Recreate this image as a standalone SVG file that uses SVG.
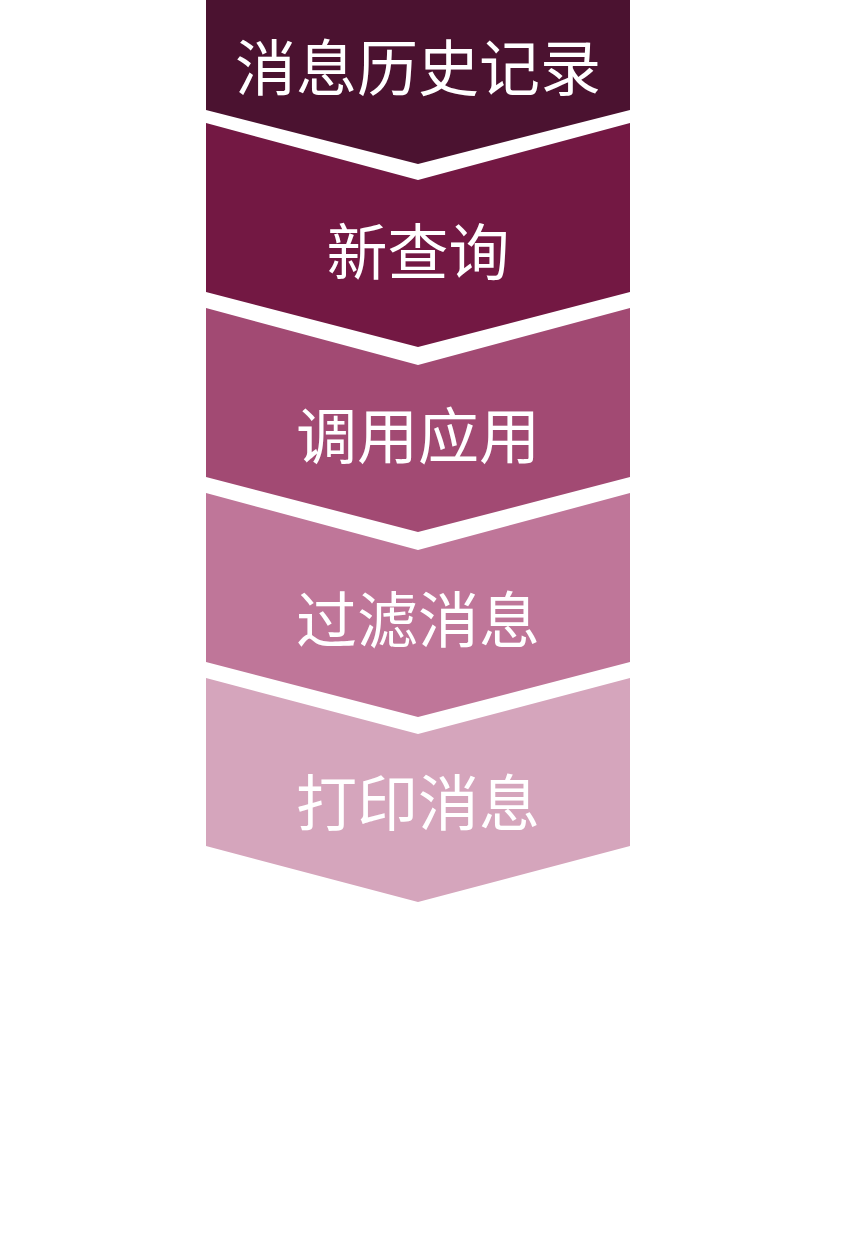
<svg xmlns="http://www.w3.org/2000/svg" width="864" height="1234" viewBox="0 0 864 1234">
<style>
.lbl{font-family:"Noto Sans CJK SC","Noto Sans",sans-serif;font-size:61px;fill:#ffffff;text-anchor:middle;dominant-baseline:central}
</style>
<rect width="864" height="1234" fill="#ffffff"/>
<g id="step1">
<polygon points="206,0 630,0 630,110 418,164 206,110" fill="#4b1230"/>
<text class="lbl" x="418" y="64">消息历史记录</text>
</g>
<g id="step2">
<polygon points="206,123 418,180 630,123 630,292 418,347 206,292" fill="#731843"/>
<text class="lbl" x="418" y="248">新查询</text>
</g>
<g id="step3">
<polygon points="206,308 418,365 630,308 630,477 418,532 206,477" fill="#a24a73"/>
<text class="lbl" x="418" y="432">调用应用</text>
</g>
<g id="step4">
<polygon points="206,493 418,550 630,493 630,662 418,717 206,662" fill="#bf7699"/>
<text class="lbl" x="418" y="616">过滤消息</text>
</g>
<g id="step5">
<polygon points="206,678 418,734 630,678 630,846 418,902 206,846" fill="#d5a5bc"/>
<text class="lbl" x="418" y="799">打印消息</text>
</g>
<g id="connectors"></g>
</svg>
